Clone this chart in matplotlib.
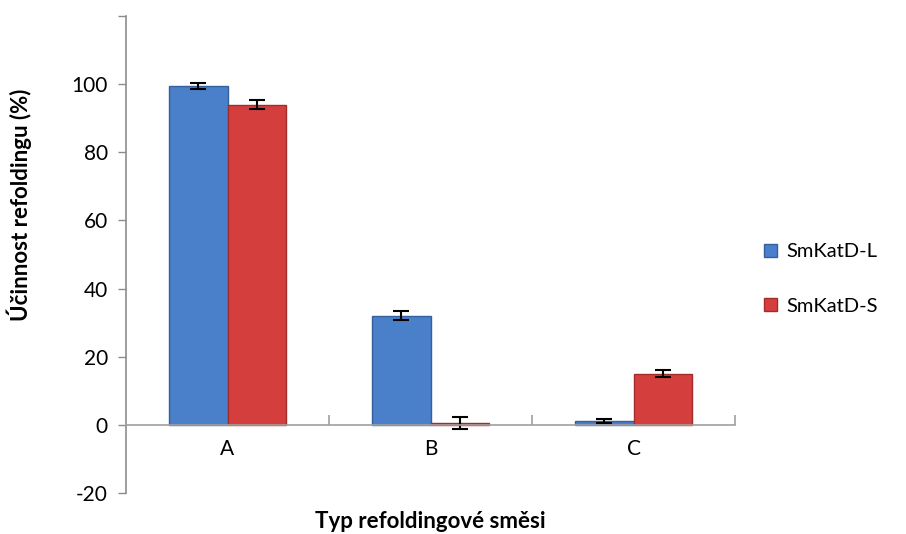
import numpy as np
import matplotlib.pyplot as plt

categories = ["A", "B", "C"]
series_names = ["SmKatD-L", "SmKatD-S"]
values_l = [99.5, 32.0, 1.2]
errors_l = [0.8, 1.3, 0.6]
values_s = [94.0, 0.6, 15.0]
errors_s = [1.4, 1.8, 1.0]
yticks = [-20, 0, 20, 40, 60, 80, 100, 120]
ytick_labels = ["-20", "0", "20", "40", "60", "80", "100", ""]

plt.rcParams['font.family'] = ['Lato', 'DejaVu Sans']


def main():
    fig = plt.figure(figsize=(9.06, 5.34), dpi=100)
    ax = fig.add_axes([126 / 906, 1 - 493 / 534, (735 - 126) / 906, (493 - 16) / 534])

    x = np.arange(len(categories))
    w = 0.29
    err_kw = dict(ecolor="black", elinewidth=1.5, capsize=6, capthick=1.5)

    ax.bar(x - w / 2, values_l, w, yerr=errors_l, color="#4a7fc9",
           edgecolor="#34609e", linewidth=1.0, label=series_names[0],
           error_kw=err_kw, zorder=2)
    ax.bar(x + w / 2, values_s, w, yerr=errors_s, color="#d43f3d",
           edgecolor="#a22c2a", linewidth=1.0, label=series_names[1],
           error_kw=err_kw, zorder=2)

    ax.set_xlim(-0.5, len(categories) - 0.5)
    ax.set_ylim(-20, 120)

    # y axis
    ax.set_yticks(yticks)
    ax.set_yticklabels(ytick_labels, fontsize=15)
    ax.tick_params(axis="y", direction="out", length=6, width=1,
                   color="#8c8c8c", pad=7)

    # category axis at zero, boundary ticks pointing up
    ax.spines["bottom"].set_position(("data", 0))
    ax.spines["bottom"].set_color("#a0a0a0")
    ax.spines["bottom"].set_linewidth(1.2)
    ax.spines["left"].set_color("#8c8c8c")
    ax.spines["left"].set_linewidth(1.2)
    ax.spines["top"].set_visible(False)
    ax.spines["right"].set_visible(False)

    ax.set_xticks([0.5, 1.5, 2.5])
    ax.set_xticklabels([])
    ax.tick_params(axis="x", which="major", direction="in", length=7,
                   width=1.2, color="#a0a0a0")
    ax.set_xticks(x, minor=True)
    ax.set_xticklabels(categories, minor=True, fontsize=15)
    ax.tick_params(axis="x", which="minor", length=0, pad=10)

    fig.text(430 / 906, 1 - 521 / 534, "Typ refoldingové směsi",
             ha="center", va="center", fontsize=16, fontweight="bold")
    fig.text(19 / 906, 1 - 205 / 534, "Účinnost refoldingu (%)",
             ha="center", va="center", rotation=90, fontsize=16,
             fontweight="bold")

    fig.legend(loc="center left", bbox_to_anchor=(764 / 906, 1 - 279 / 534),
               frameon=False, fontsize=14.5, handlelength=0.65,
               handleheight=0.65, labelspacing=1.85, handletextpad=0.45,
               borderaxespad=0, borderpad=0)

    plt.savefig("out.png", dpi=100)


if __name__ == "__main__":
    main()
